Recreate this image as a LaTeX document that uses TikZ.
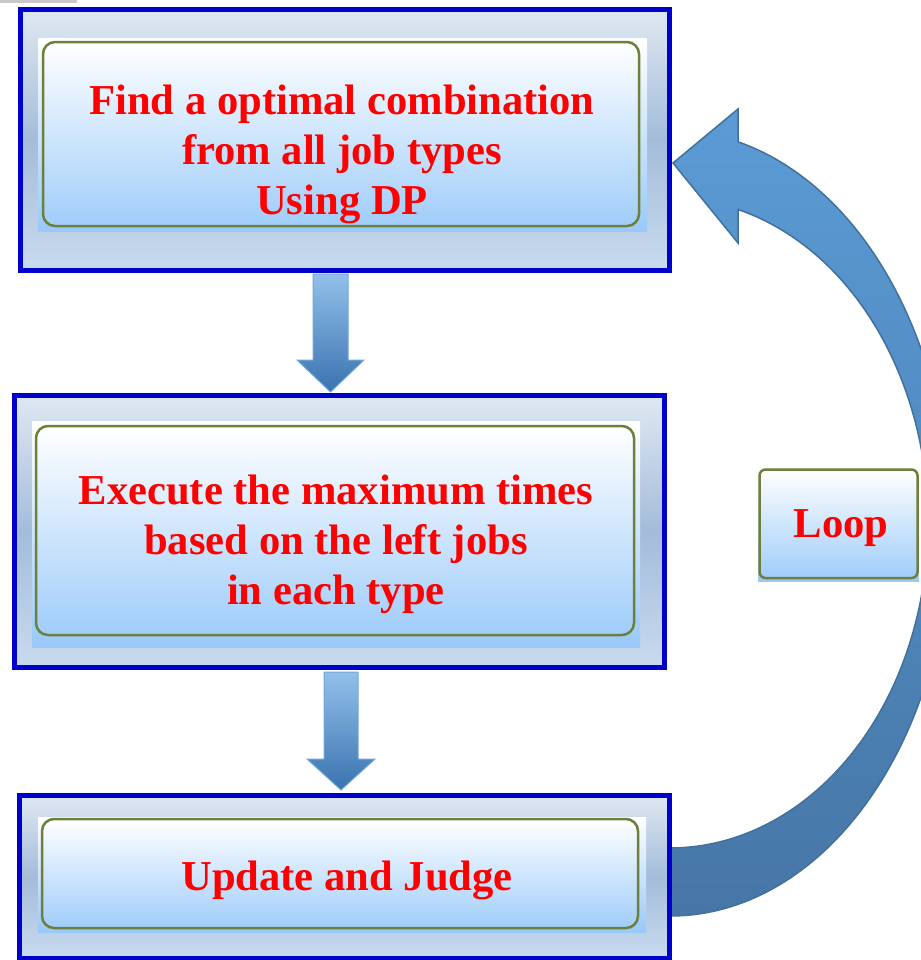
\documentclass[tikz,border=0pt]{standalone}
\usepackage{fontspec}
\setmainfont{Liberation Serif}
\definecolor{boxblue}{HTML}{0000CC}
\definecolor{outtop}{HTML}{DFE8F2}
\definecolor{outmid}{HTML}{A4BCDA}
\definecolor{outbot}{HTML}{C8DAEE}
\definecolor{inbot}{HTML}{99C9F9}
\definecolor{rbot}{HTML}{A0CDFA}
\definecolor{olivebd}{HTML}{6E7F3C}
\definecolor{datop}{HTML}{93C0EA}
\definecolor{dabot}{HTML}{3A73B0}
\definecolor{daline}{HTML}{70A8DC}
\definecolor{latop}{HTML}{5B9BD5}
\definecolor{labot}{HTML}{4676A6}
\definecolor{laline}{HTML}{41719C}
\definecolor{topline}{HTML}{C8C8C8}
\begin{document}
\begin{tikzpicture}[x=0.5pt,y=-0.5pt,
  outerbox/.style={draw=boxblue, line width=2.5pt, top color=outtop, bottom color=outbot, middle color=outmid, inner sep=0pt},
  innersq/.style={top color=white, bottom color=inbot},
  roundbox/.style={draw=olivebd, line width=1.25pt, rounded corners=6pt, top color=white, bottom color=rbot},
  lbl/.style={text=red, font=\fontsize{21.3}{25}\selectfont\bfseries, align=center},
  downarrow/.style={top color=datop, bottom color=dabot, draw=daline, line width=0.5pt},
  looparrow/.style={top color=latop, bottom color=labot, draw=laline, line width=0.75pt}]
\useasboundingbox (0,0) rectangle (921,960);
\clip (0,0) rectangle (921,960);
\fill[topline] (0,0) rectangle (77,3);

% curved loop arrow (from bottom box back to top box)
\draw[looparrow] (670,916) arc[start angle=90, end angle=-75.94, x radius=280, y radius=393]
  -- (738,109) -- (673,163) -- (738,243) -- (738.1,209.5)
  arc[start angle=-74.7, end angle=90, x radius=258, y radius=325] -- cycle;

% box 1
\node[outerbox, minimum width=324.5pt, minimum height=130.5pt] (b1) at (344.5,139.5) {};
\fill[innersq] (38,38) rectangle (647,231);
\draw[roundbox] (43,42) rectangle (639,226);
\node[lbl] (t1) at (342,154) {Find a optimal combination\\from all job types\\Using DP};

% box 2
\node[outerbox, minimum width=325pt, minimum height=136pt] (b2) at (339.5,531) {};
\fill[innersq] (32,421) rectangle (640,647);
\draw[roundbox] (36,426) rectangle (634,635);
\node[lbl] (t2) at (336,544) {Execute the maximum times\\based on the left jobs\\in each type};

% box 3
\node[outerbox, minimum width=325pt, minimum height=81.5pt] (b3) at (344.5,876.5) {};
\fill[innersq] (38,817) rectangle (646,932);
\draw[roundbox] (42,819) rectangle (638,928);
\node[lbl] (t3) at (347,880) {Update and Judge};

% down arrows
\draw[downarrow] (313,274) -- (348,274) -- (348,360) -- (364,360) -- (330.5,392) -- (297,360) -- (313,360) -- cycle;
\draw[downarrow] (324,672) -- (358,672) -- (358,759) -- (375,759) -- (341,790) -- (307,759) -- (324,759) -- cycle;

% loop box
\fill[innersq] (758,470) rectangle (919,581);
\draw[roundbox, rounded corners=3pt] (759.5,469.5) rectangle (917.5,578);
\node[lbl] (loop) at (841,528) {Loop};
\end{tikzpicture}
\end{document}
